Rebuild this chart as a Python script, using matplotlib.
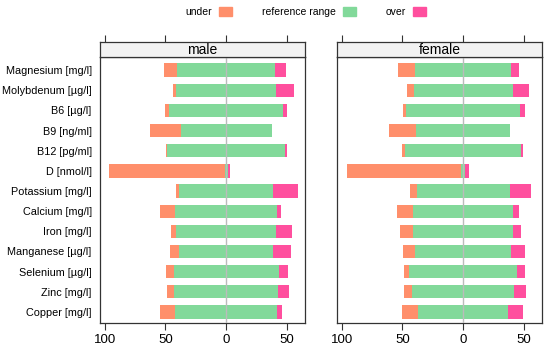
import numpy as np
import matplotlib.pyplot as plt
from matplotlib.patches import Patch
from matplotlib.ticker import FuncFormatter

plt.rcParams['font.family'] = ['Liberation Sans', 'DejaVu Sans']

nutrients = ['Magnesium [mg/l]', 'Molybdenum [µg/l]', 'B6 [µg/l]', 'B9 [ng/ml]',
             'B12 [pg/ml]', 'D [nmol/l]', 'Potassium [mg/l]', 'Calcium [mg/l]',
             'Iron [mg/l]', 'Manganese [µg/l]', 'Selenium [µg/l]', 'Zinc [mg/l]',
             'Copper [mg/l]']

# percent under / inside / over the reference range
male_under = [11, 3, 3, 25, 1, 95.5, 2.5, 12.5, 4, 7.5, 6, 6, 12]
male_ref = [80, 82, 94, 75, 97, 2.5, 77, 84.5, 83, 78, 86.5, 85, 84.5]
male_over = [9, 15, 3, 0, 2, 2, 20.5, 3, 13, 14.5, 7.5, 9, 3.5]

female_under = [14, 5, 2, 22.5, 2.5, 94, 5.5, 13, 11, 9.5, 4.5, 6.5, 13.5]
female_ref = [79.5, 81.5, 94.5, 77.5, 96, 3, 76.5, 82, 82.5, 79.5, 89, 84, 73.5]
female_over = [6.5, 13.5, 3.5, 0, 1.5, 3, 18, 5, 6.5, 11, 6.5, 9.5, 13]

panels = [('male', male_under, male_ref, male_over),
          ('female', female_under, female_ref, female_over)]

c_under = '#FF8F6B'
c_ref = '#82D99A'
c_over = '#FF4F9E'
edge = '#333333'

fig = plt.figure(figsize=(5.5, 3.52), dpi=100)
lefts = [100 / 550, 337 / 550]
width = 205 / 550
bottom = 1 - 323 / 352
height = (323 - 57) / 352
strip_h = 15 / 352

y = np.arange(len(nutrients))
for i, (name, under, ref, over) in enumerate(panels):
    under = np.array(under)
    half = np.array(ref) / 2
    over = np.array(over)
    ax = fig.add_axes([lefts[i], bottom, width, height])
    ax.barh(y, under, left=-half - under, height=0.66, color=c_under)
    ax.barh(y, 2 * half, left=-half, height=0.66, color=c_ref)
    ax.barh(y, over, left=half, height=0.66, color=c_over)
    ax.axvline(0, color='#BBBBBB', lw=1, zorder=3)
    ax.set_xlim(-103.8, 65)
    ax.set_ylim(12.55, -0.65)
    ax.set_xticks([-100, -50, 0, 50])
    ax.xaxis.set_major_formatter(FuncFormatter(lambda v, p: f'{abs(v):.0f}'))
    ax.tick_params(axis='x', direction='out', length=5, width=0.8, color=edge,
                   labelsize=9.5, pad=3)
    ax.set_yticks(y)
    if i == 0:
        ax.set_yticklabels(nutrients, fontsize=7.8)
    else:
        ax.set_yticklabels([])
    ax.tick_params(axis='y', length=0, pad=6)
    for s in ax.spines.values():
        s.set_color(edge)
        s.set_linewidth(0.9)

    st = fig.add_axes([lefts[i], bottom + height, width, strip_h])
    st.set_facecolor('#F2F2F2')
    st.set_xlim(-103.8, 65)
    st.set_xticks([-100, -50, 0, 50])
    st.set_yticks([])
    st.xaxis.tick_top()
    st.tick_params(axis='x', direction='out', length=5, width=0.8, color=edge,
                   labeltop=False, labelbottom=False)
    for s in st.spines.values():
        s.set_color(edge)
        s.set_linewidth(0.9)
    st.text(0.5, 0.45, name, transform=st.transAxes, ha='center', va='center',
            fontsize=10)

handles = [Patch(color=c_under, label='under'),
           Patch(color=c_ref, label='reference range'),
           Patch(color=c_over, label='over')]
fig.legend(handles=handles, loc='center', bbox_to_anchor=(0.556, 0.966), ncols=3,
           frameon=False, markerfirst=False, fontsize=7.5, handlelength=1.25,
           handleheight=0.9, columnspacing=2.9, handletextpad=0.65)

fig.savefig('out.png', dpi=100)
